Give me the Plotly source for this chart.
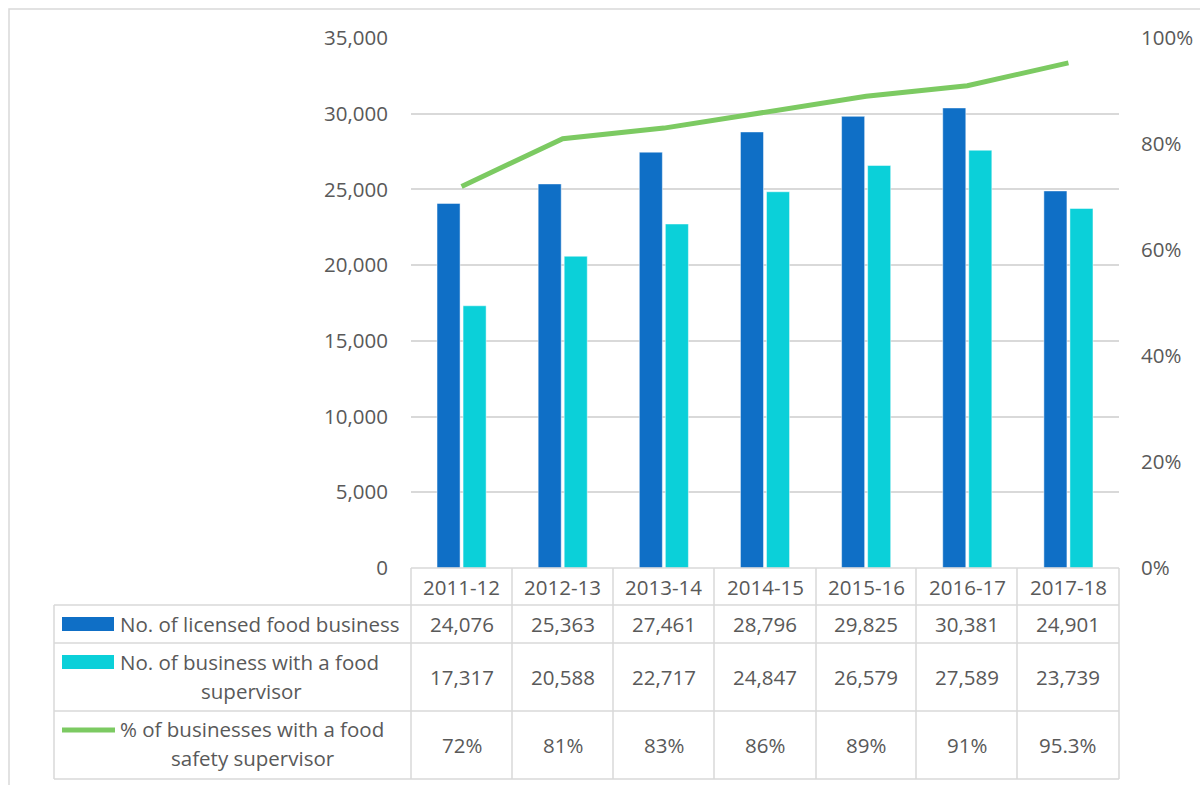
import plotly.graph_objects as go

# Financial years
years = ["2011-12", "2012-13", "2013-14", "2014-15", "2015-16", "2016-17", "2017-18"]

# Number of licensed food businesses
licensed = [24076, 25363, 27461, 28796, 29825, 30381, 24901]

# Number of businesses with a food supervisor
with_supervisor = [17317, 20588, 22717, 24847, 26579, 27589, 23739]

# Share of businesses with a food safety supervisor
pct_supervisor = [0.72, 0.81, 0.83, 0.86, 0.89, 0.91, 0.953]

series_names = [
    "No. of licensed food business",
    "No. of business with a food supervisor",
    "% of businesses with a food safety supervisor",
]

DARK = "#0F6FC6"
CYAN = "#0BD0D9"
GREEN = "#7CCA62"
TEXT = "#595959"
GRID = "#D9D9D9"
FONT = "Open Sans, Calibri, sans-serif"
FS = 20.5

W, H = 1200, 785
L, R, T, B = 411, 1119, 38, 568  # plot area in pixels


def px(x):
    return (x - L) / (R - L)


def py(y):
    return (B - y) / (B - T)


fig = go.Figure()
fig.add_trace(go.Bar(
    x=years, y=licensed, name=series_names[0],
    marker=dict(color=DARK, line=dict(color="rgba(255,255,255,0.6)", width=0.8)),
))
fig.add_trace(go.Bar(
    x=years, y=with_supervisor, name=series_names[1],
    marker=dict(color=CYAN, line=dict(color="rgba(255,255,255,0.6)", width=0.8)),
))
fig.add_trace(go.Scatter(
    x=years, y=pct_supervisor, name=series_names[2], yaxis="y2",
    mode="lines", line=dict(color=GREEN, width=5),
))

shapes = []
line_style = dict(color=GRID, width=1.5)


def hline(x0, x1, y):
    shapes.append(dict(type="line", xref="paper", yref="paper",
                       x0=px(x0), x1=px(x1), y0=py(y), y1=py(y), line=line_style))


def vline(x, y0, y1):
    shapes.append(dict(type="line", xref="paper", yref="paper",
                       x0=px(x), x1=px(x), y0=py(y0), y1=py(y1), line=line_style))


# Outer chart frame
shapes.append(dict(type="rect", xref="paper", yref="paper",
                   x0=px(9), x1=px(1210), y0=py(9), y1=py(800),
                   line=dict(color=GRID, width=1.5)))

# Data table grid
col_edges = [411, 512, 613, 714, 816, 916, 1017, 1119]
row_edges = [568, 605, 643, 711, 779]
hline(411, 1119, 568)
for y in row_edges[1:]:
    hline(54, 1119, y)
for x in col_edges:
    vline(x, 568, 779)
vline(54, 605, 779)

# Legend keys in the table
shapes.append(dict(type="rect", xref="paper", yref="paper",
                   x0=px(62), x1=px(114), y0=py(617), y1=py(631),
                   fillcolor=DARK, line=dict(width=0)))
shapes.append(dict(type="rect", xref="paper", yref="paper",
                   x0=px(62), x1=px(114), y0=py(655), y1=py(669),
                   fillcolor=CYAN, line=dict(width=0)))
shapes.append(dict(type="line", xref="paper", yref="paper",
                   x0=px(62), x1=px(115), y0=py(730), y1=py(730),
                   line=dict(color=GREEN, width=5)))

annotations = []
tfont = dict(family=FONT, size=FS, color=TEXT)


def text_at(xref, x, y, s, xanchor="center"):
    annotations.append(dict(xref=xref, yref="paper", x=x, y=py(y), text=s,
                            showarrow=False, xanchor=xanchor, yanchor="middle",
                            font=tfont))


row_y = [(row_edges[i] + row_edges[i + 1]) / 2 for i in range(4)]

for i, yr in enumerate(years):
    text_at("x", i, row_y[0], yr)
    text_at("x", i, row_y[1], f"{licensed[i]:,}")
    text_at("x", i, row_y[2], f"{with_supervisor[i]:,}")
    text_at("x", i, row_y[3], f"{round(pct_supervisor[i] * 100, 1):g}%")

# Row labels
text_at("paper", px(118), row_y[1], "No. of licensed food business", "left")
text_at("paper", px(118), 662, "No. of business with a food", "left")
text_at("paper", px(251), 691, "supervisor")
text_at("paper", px(118), 729, "% of businesses with a food", "left")
text_at("paper", px(253), 758, "safety supervisor")

fig.update_layout(
    width=W, height=H,
    margin=dict(l=L, r=W - R, t=T, b=H - B, pad=0, autoexpand=False),
    paper_bgcolor="white", plot_bgcolor="white",
    font=dict(family=FONT, size=FS, color=TEXT),
    showlegend=False,
    barmode="group", bargap=0.485, bargroupgap=0.115,
    xaxis=dict(type="category", range=[-0.5, 6.5], showticklabels=False,
               showgrid=False, zeroline=False, showline=False, ticks="",
               automargin=False),
    yaxis=dict(range=[0, 35000], dtick=5000, tickformat=",",
               showgrid=True, gridcolor=GRID, gridwidth=1.5,
               zeroline=False, showline=False, ticks="", automargin=False,
               ticklabelstandoff=22, tickfont=tfont),
    yaxis2=dict(range=[0, 1], dtick=0.2, tickformat=".0%", overlaying="y",
                side="right", showgrid=False, zeroline=False, showline=False,
                ticks="", ticklabelstandoff=21, tickfont=tfont, automargin=False),
    shapes=shapes,
    annotations=annotations,
)

fig.write_html("out.html")
